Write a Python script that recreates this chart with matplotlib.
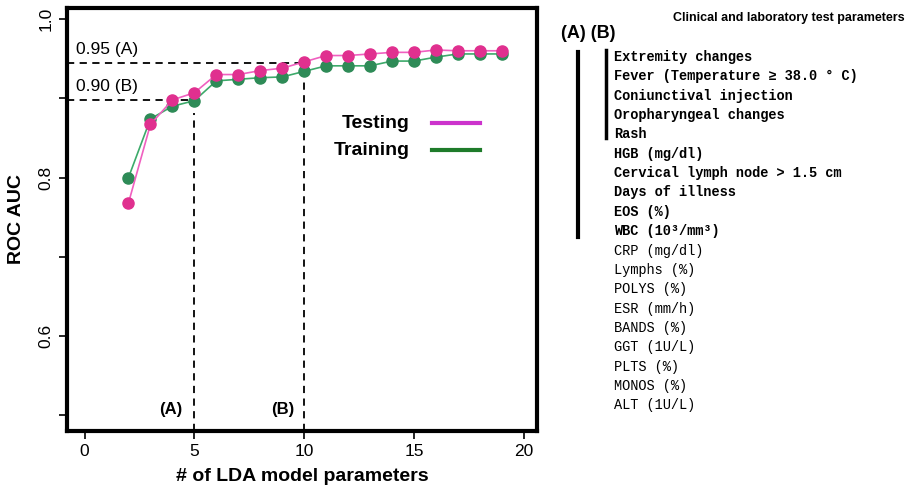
import matplotlib
matplotlib.use("Agg")
import matplotlib.pyplot as plt

n_params = list(range(2, 20))
testing = [0.768, 0.867, 0.898, 0.907, 0.930, 0.930, 0.935, 0.938, 0.946,
           0.954, 0.954, 0.956, 0.958, 0.958, 0.961, 0.960, 0.960, 0.960]
training = [0.800, 0.874, 0.890, 0.897, 0.922, 0.924, 0.926, 0.927, 0.934,
            0.941, 0.941, 0.941, 0.947, 0.947, 0.952, 0.956, 0.956, 0.956]

thr_A, thr_B = 0.945, 0.898
cut_A, cut_B = 5, 10

params_bold = ["Extremity changes", "Fever (Temperature \u2265 38.0 \u00b0 C)",
               "Coniunctival injection", "Oropharyngeal changes", "Rash",
               "HGB (mg/dl)", "Cervical lymph node > 1.5 cm", "Days of illness",
               "EOS (%)", "WBC (10\u00b3/mm\u00b3)"]
params_normal = ["CRP (mg/dl)", "Lymphs (%)", "POLYS (%)", "ESR (mm/h)",
                 "BANDS (%)", "GGT (1U/L)", "PLTS (%)", "MONOS (%)", "ALT (1U/L)"]

plt.rcParams['font.family'] = ['Liberation Sans', 'DejaVu Sans']
fig = plt.figure(figsize=(9.11, 4.94), dpi=100)
ax = fig.add_axes([67/911, 1-431/494, (537-67)/911, (431-8)/494])

pink_line, pink_mk = '#F060C0', '#E0308F'
green_line, green_mk = '#3CAA6A', '#2E8B57'

ax.plot(n_params, training, '-', color=green_line, lw=1.2, zorder=3)
ax.plot(n_params, training, 'o', color=green_mk, ms=8, zorder=4)
ax.plot(n_params, testing, '-', color=pink_line, lw=1.2, zorder=5)
ax.plot(n_params, testing, 'o', color=pink_mk, ms=8, zorder=6)

ax.set_xlim(-0.8, 20.6)
ax.set_ylim(0.48, 1.014)

# dashed guide lines
ax.plot([-0.8, cut_B], [thr_A, thr_A], '--', color='black', lw=1.3, dashes=(4, 3), zorder=2)
ax.plot([-0.8, cut_A], [thr_B, thr_B], '--', color='black', lw=1.3, dashes=(4, 3), zorder=2)
ax.plot([cut_A, cut_A], [0.48, 0.881], '--', color='black', lw=1.3, dashes=(4, 3), zorder=2)
ax.plot([cut_B, cut_B], [0.48, 0.920], '--', color='black', lw=1.3, dashes=(4, 3), zorder=2)
ax.text(-0.4, thr_A + 0.007, "0.95 (A)", fontsize=12.5, va='bottom', ha='left')
ax.text(-0.4, thr_B + 0.007, "0.90 (B)", fontsize=12.5, va='bottom', ha='left')
ax.text(cut_A - 0.55, 0.498, "(A)", fontsize=12, fontweight='bold', ha='right', va='bottom')
ax.text(cut_B - 0.45, 0.498, "(B)", fontsize=12, fontweight='bold', ha='right', va='bottom')

# legend-like labels
ax.text(14.8, 0.868, "Testing", fontsize=14, fontweight='bold', ha='right', va='center')
ax.text(14.8, 0.834, "Training", fontsize=14, fontweight='bold', ha='right', va='center')
ax.plot([15.8, 18.0], [0.869, 0.869], color='#CC33CC', lw=3)
ax.plot([15.8, 18.0], [0.835, 0.835], color='#1E7B2A', lw=3)

ax.set_xticks([0, 5, 10, 15, 20])
ax.set_yticks([0.5, 0.6, 0.7, 0.8, 0.9, 1.0])
ax.set_yticklabels(['', '0.6', '', '0.8', '', '1.0'], rotation=90, va='center')
ax.tick_params(axis='both', labelsize=12.5, width=1.2, length=6, direction='out')
for s in ax.spines.values():
    s.set_linewidth(3)
ax.set_xlabel("# of LDA model parameters", fontsize=14, fontweight='bold', labelpad=6)
ax.set_ylabel("ROC AUC", fontsize=14, fontweight='bold', labelpad=10)

# right-side parameter list
fig.text(905/911, 1-18/494, "Clinical and laboratory test parameters", fontsize=9,
         fontweight='bold', ha='right', va='center')
fig.text(561/911, 1-34/494, "(A) (B)", fontsize=13, fontweight='bold', ha='left', va='center')
y0, dy = 57, 19.35
mono = ['Liberation Mono', 'DejaVu Sans Mono']
for i, t in enumerate(params_bold + params_normal):
    fig.text(614/911, 1-(y0 + i*dy)/494, t, fontsize=9.8, family=mono,
             fontweight='bold' if i < len(params_bold) else 'normal',
             ha='left', va='center')
fig.add_artist(plt.Line2D([578/911, 578/911], [1-52/494, 1-237/494], color='black', lw=3))
fig.add_artist(plt.Line2D([606/911, 606/911], [1-50/494, 1-138/494], color='black', lw=2.5))

fig.savefig("out.png", dpi=100)
